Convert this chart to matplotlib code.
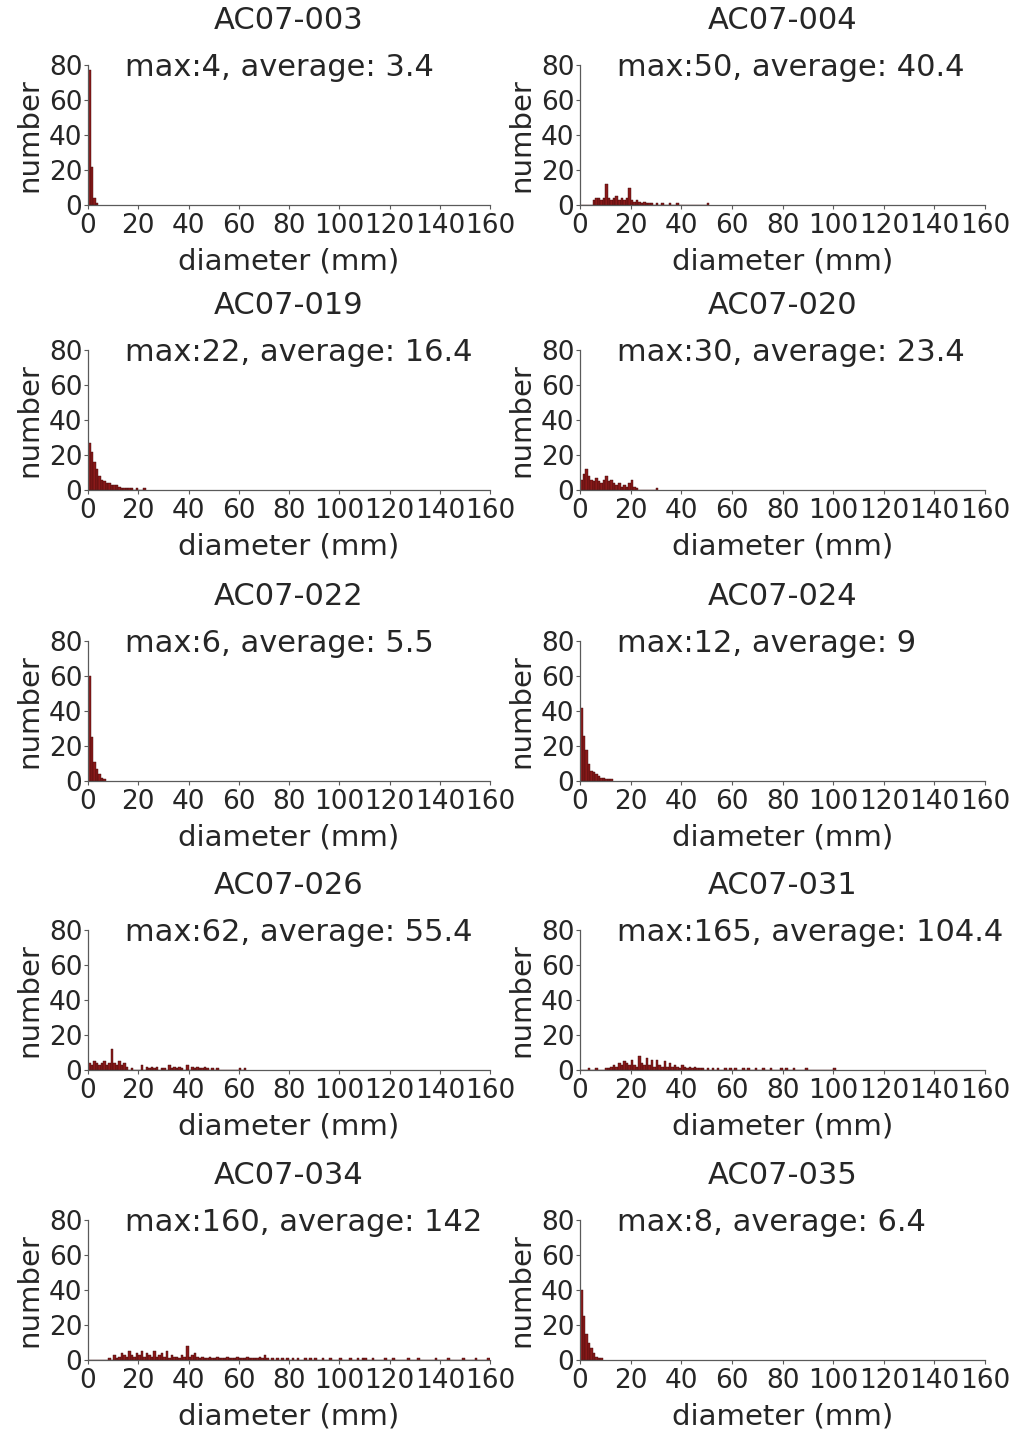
import numpy as np
import matplotlib.pyplot as plt

plt.rcParams['font.family'] = 'DejaVu Sans'

# sample names and the max / average text of each panel
names = ['AC07-003', 'AC07-004', 'AC07-019', 'AC07-020', 'AC07-022',
         'AC07-024', 'AC07-026', 'AC07-031', 'AC07-034', 'AC07-035']
max_txt = ['4', '50', '22', '30', '6', '12', '62', '165', '160', '8']
avg_txt = ['3.4', '40.4', '16.4', '23.4', '5.5', '9', '55.4', '104.4', '142', '6.4']

# counts per 1 mm diameter bin, starting at 0 mm
c003 = [77, 22, 4, 1]
c004 = [0, 0, 0, 0, 0, 3, 4, 4, 3, 4, 12, 4, 3, 4, 5, 3, 4, 3, 4, 10,
        3, 2, 3, 2, 1, 2, 1, 1, 1, 0, 1, 0, 1, 0, 0, 1, 0, 0, 1, 0,
        0, 0, 0, 0, 0, 0, 0, 0, 0, 0, 1]
c019 = [27, 22, 16, 12, 8, 6, 5, 4, 4, 3, 3, 3, 2, 1, 1, 1, 1, 1, 0, 1, 0, 0, 1]
c020 = [6, 9, 12, 8, 6, 5, 7, 5, 4, 6, 8, 5, 6, 4, 3, 4, 2, 3, 2, 4,
        6, 2, 1, 0, 0, 0, 0, 0, 0, 0, 1]
c022 = [60, 25, 11, 7, 4, 2, 1]
c024 = [42, 26, 18, 10, 6, 5, 4, 3, 2, 2, 1, 1, 1]
c026 = [4, 3, 5, 4, 3, 4, 5, 3, 4, 12, 4, 3, 5, 3, 4, 2, 0, 1, 0, 0,
        0, 3, 0, 2, 1, 2, 1, 2, 0, 1, 1, 0, 3, 1, 2, 1, 2, 1, 0, 3,
        0, 2, 1, 2, 1, 1, 2, 1, 0, 1, 0, 1, 0, 0, 0, 0, 0, 0, 0, 0,
        1, 0, 1]
c031 = [0, 0, 0, 1, 0, 0, 1, 0, 0, 0,
        1, 1, 2, 3, 2, 4, 3, 5, 4, 3,
        6, 3, 2, 8, 4, 3, 7, 3, 6, 2,
        6, 3, 2, 5, 2, 4, 2, 3, 2, 1,
        3, 2, 1, 2, 1, 2, 1, 1, 1, 0,
        1, 0, 1, 0, 1, 0, 0, 1, 0, 1,
        0, 1, 0, 0, 1, 0, 1, 0, 0, 1,
        0, 0, 1, 0, 0, 1, 0, 0, 0, 1,
        0, 1, 0, 0, 1, 0, 0, 0, 0, 1,
        0, 0, 0, 0, 0, 0, 0, 0, 0, 0,
        1]
c034 = [0, 0, 0, 0, 0, 0, 0, 0, 1, 0,
        3, 1, 2, 4, 3, 2, 5, 3, 2, 4,
        3, 5, 2, 4, 3, 2, 5, 2, 3, 4,
        2, 5, 1, 3, 2, 2, 1, 3, 2, 8,
        2, 3, 4, 2, 1, 2, 1, 1, 2, 1,
        1, 2, 1, 1, 1, 2, 1, 1, 1, 2,
        1, 1, 1, 2, 1, 1, 1, 1, 2, 1,
        3, 1, 0, 1, 0, 1, 0, 1, 0, 1,
        0, 1, 0, 1, 0, 0, 1, 0, 1, 0,
        1, 0, 0, 1, 0, 0, 1, 0, 0, 0,
        1, 0, 0, 0, 1, 0, 0, 1, 0, 1,
        1, 0, 0, 1, 0, 0, 0, 0, 1, 0,
        0, 1, 0, 0, 0, 0, 0, 1, 0, 0,
        0, 1, 0, 0, 0, 0, 0, 0, 1, 0,
        0, 0, 0, 1, 0, 0, 0, 0, 0, 1,
        0, 0, 0, 0, 1, 0, 0, 0, 0, 1]
c035 = [40, 25, 15, 10, 7, 4, 2, 1, 1]

counts = [c003, c004, c019, c020, c022, c024, c026, c031, c034, c035]

W, H = 1019, 1435
fig = plt.figure(figsize=(W / 100, H / 100), dpi=100)

col_left = [88, 580]
col_width = [402, 405]
row_bottom = [205, 490, 781, 1070, 1360]
ax_h = 140

bar_col = '#8b1a1a'
txt_col = '#262626'
ax_col = '#5a5a5a'

for i in range(10):
    r, c = i // 2, i % 2
    x0 = col_left[c] / W
    y0 = 1 - row_bottom[r] / H
    ax = fig.add_axes([x0, y0, col_width[c] / W, ax_h / H])

    y = np.array(counts[i])
    x = np.arange(len(y))
    ax.bar(x, y, width=1.0, align='edge', color=bar_col,
           edgecolor='#3d0808', linewidth=0.3)

    ax.set_xlim(0, 160)
    ax.set_ylim(0, 80)
    ax.set_xticks(np.arange(0, 161, 20))
    ax.set_yticks(np.arange(0, 81, 20))
    ax.tick_params(labelsize=19, length=3, width=0.8, pad=1,
                   colors=ax_col, labelcolor=txt_col)
    ax.tick_params(axis='x', pad=3)
    for s in ['top', 'right']:
        ax.spines[s].set_visible(False)
    for s in ['left', 'bottom']:
        ax.spines[s].set_color(ax_col)
        ax.spines[s].set_linewidth(0.9)

    ax.set_xlabel('diameter (mm)', fontsize=21, color=txt_col, labelpad=6)
    ax.set_ylabel('number', fontsize=21, color=txt_col, labelpad=4)
    ax.set_title(names[i], fontsize=22, color=txt_col, pad=26)
    ax.text(0.092, 0.98, 'max:' + max_txt[i] + ', average: ' + avg_txt[i],
            transform=ax.transAxes, fontsize=22, color=txt_col,
            ha='left', va='center')

fig.savefig('out.png', dpi=100, facecolor='white')
